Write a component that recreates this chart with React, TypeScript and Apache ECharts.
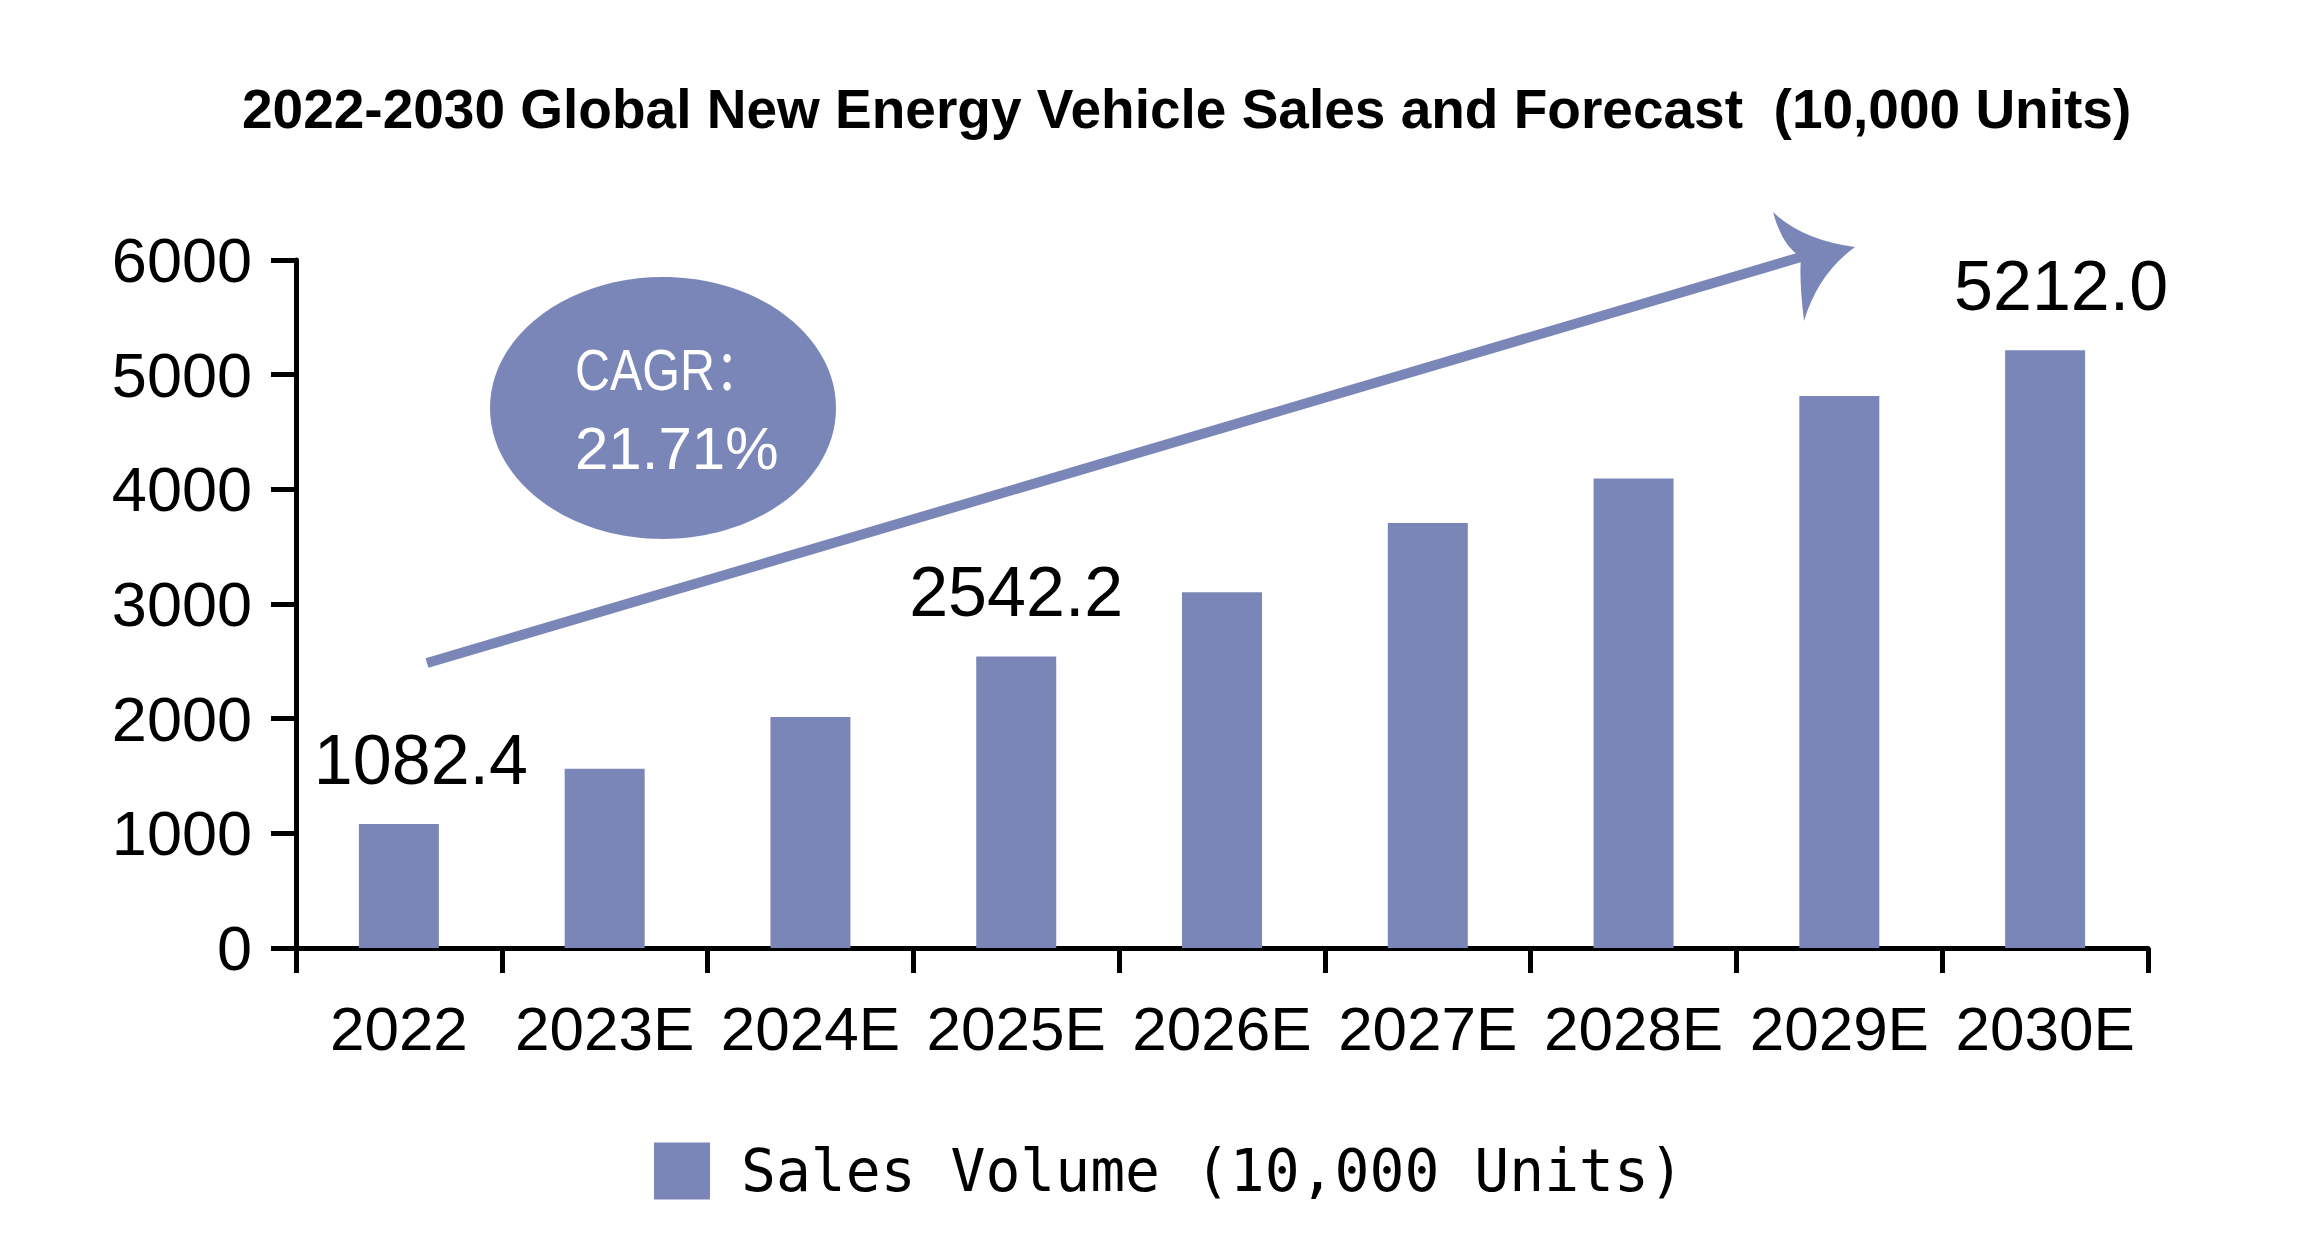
import React, { useEffect, useRef } from 'react';
import * as echarts from 'echarts';

const categories = ['2022', '2023E', '2024E', '2025E', '2026E', '2027E', '2028E', '2029E', '2030E'];
const salesValues = [1082.4, 1564, 2015, 2542.2, 3103, 3707, 4094, 4813, 5212.0];
const labeledIndices = [0, 3, 8];
const yMin = 0;
const yMax = 6000;
const yStep = 1000;
const titleText = '2022-2030 Global New Energy Vehicle Sales and Forecast  (10,000 Units)';
const seriesName = 'Sales Volume (10,000 Units)';
const cagrLabel = 'CAGR：';
const cagrValue = '21.71%';

const BAR_COLOR = '#7b86b8';

let shapeRegistered = false;
function ensureShape() {
  if (shapeRegistered) return;
  const d = 'M1773,212 Q1802,240 1855,247 Q1818,274 1804,321 Q1799,280 1801,257 Q1782,246 1773,212 Z';
  echarts.graphic.registerShape('arrowHead', echarts.graphic.extendPath(d, {}));
  shapeRegistered = true;
}

export default function App() {
  const ref = useRef<HTMLDivElement>(null);

  useEffect(() => {
    ensureShape();
    const chart = echarts.init(ref.current as HTMLDivElement, null, { renderer: 'svg' });
    const labelOffsetX: Record<number, number> = { 0: 22, 3: 0, 8: 16 };
    const data = salesValues.map((v, i) => {
      if (labeledIndices.indexOf(i) >= 0) {
        return {
          value: v,
          label: {
            show: true,
            position: 'top',
            distance: 29,
            offset: [labelOffsetX[i] || 0, 0],
            fontFamily: 'Liberation Sans, Arial, sans-serif',
            fontSize: 70,
            color: '#000',
            formatter: (p: any) => Number(p.value).toFixed(1),
          },
        };
      }
      return { value: v };
    });

    const option: any = {
      animation: false,
      backgroundColor: '#ffffff',
      title: {
        text: titleText,
        left: 237,
        top: 76,
        textStyle: {
          fontFamily: 'Liberation Sans, Arial, sans-serif',
          fontWeight: 'bold',
          fontSize: 55,
          color: '#000',
        },
      },
      legend: {
        left: 649,
        top: 1137,
        icon: 'rect',
        itemWidth: 56,
        itemHeight: 57,
        data: [seriesName],
        textStyle: {
          fontFamily: 'DejaVu Sans Mono, monospace',
          fontSize: 58,
          color: '#000',
          padding: [0, 0, 0, 26],
        },
      },
      grid: {
        left: 296,
        right: 174,
        top: 260,
        bottom: 293,
        containLabel: false,
        outerBoundsMode: 'none',
      },
      xAxis: {
        type: 'category',
        data: categories,
        axisLine: { show: true, lineStyle: { color: '#000', width: 5 } },
        axisTick: { show: true, length: 25, lineStyle: { color: '#000', width: 5 } },
        axisLabel: {
          interval: 0,
          margin: 49,
          fontFamily: 'Liberation Sans, Arial, sans-serif',
          fontSize: 62,
          color: '#000',
        },
        splitLine: { show: false },
      },
      yAxis: {
        type: 'value',
        min: yMin,
        max: yMax,
        interval: yStep,
        axisLine: { show: true, lineStyle: { color: '#000', width: 5 } },
        axisTick: { show: true, length: 25, lineStyle: { color: '#000', width: 5 } },
        axisLabel: {
          margin: 44,
          fontFamily: 'Liberation Sans, Arial, sans-serif',
          fontSize: 63,
          color: '#000',
          formatter: (v: number) => String(v),
        },
        splitLine: { show: false },
      },
      series: [
        {
          name: seriesName,
          type: 'bar',
          barWidth: 80,
          itemStyle: { color: BAR_COLOR },
          data,
        },
      ],
      graphic: [
        {
          type: 'line',
          shape: { x1: 427, y1: 663, x2: 1801, y2: 257 },
          style: { stroke: BAR_COLOR, lineWidth: 10 },
          z: 10,
        },
        {
          type: 'arrowHead',
          x: 0,
          y: 0,
          style: { fill: BAR_COLOR, stroke: 'none' },
          z: 11,
        },
        {
          type: 'ellipse',
          shape: { cx: 663, cy: 408, rx: 173, ry: 131 },
          style: { fill: BAR_COLOR },
          z: 10,
        },
        {
          type: 'text',
          x: 575,
          y: 370,
          scaleX: 0.85,
          style: {
            text: cagrLabel,
            fill: '#fff',
            fontFamily: 'Liberation Sans, Arial, Noto Sans CJK SC, sans-serif',
            fontSize: 57,
            verticalAlign: 'middle',
            align: 'left',
          },
          z: 12,
        },
        {
          type: 'text',
          x: 575,
          y: 448,
          style: {
            text: cagrValue,
            fill: '#fff',
            fontFamily: 'Liberation Sans, Arial, sans-serif',
            fontSize: 60,
            verticalAlign: 'middle',
            align: 'left',
          },
          z: 12,
        },
      ],
    };

    chart.setOption(option);
    return () => {
      chart.dispose();
    };
  }, []);

  return (
    <div
      ref={ref}
      style={{ position: 'absolute', left: 0, top: 0, width: '2322px', height: '1241px', background: '#fff' }}
    />
  );
}
